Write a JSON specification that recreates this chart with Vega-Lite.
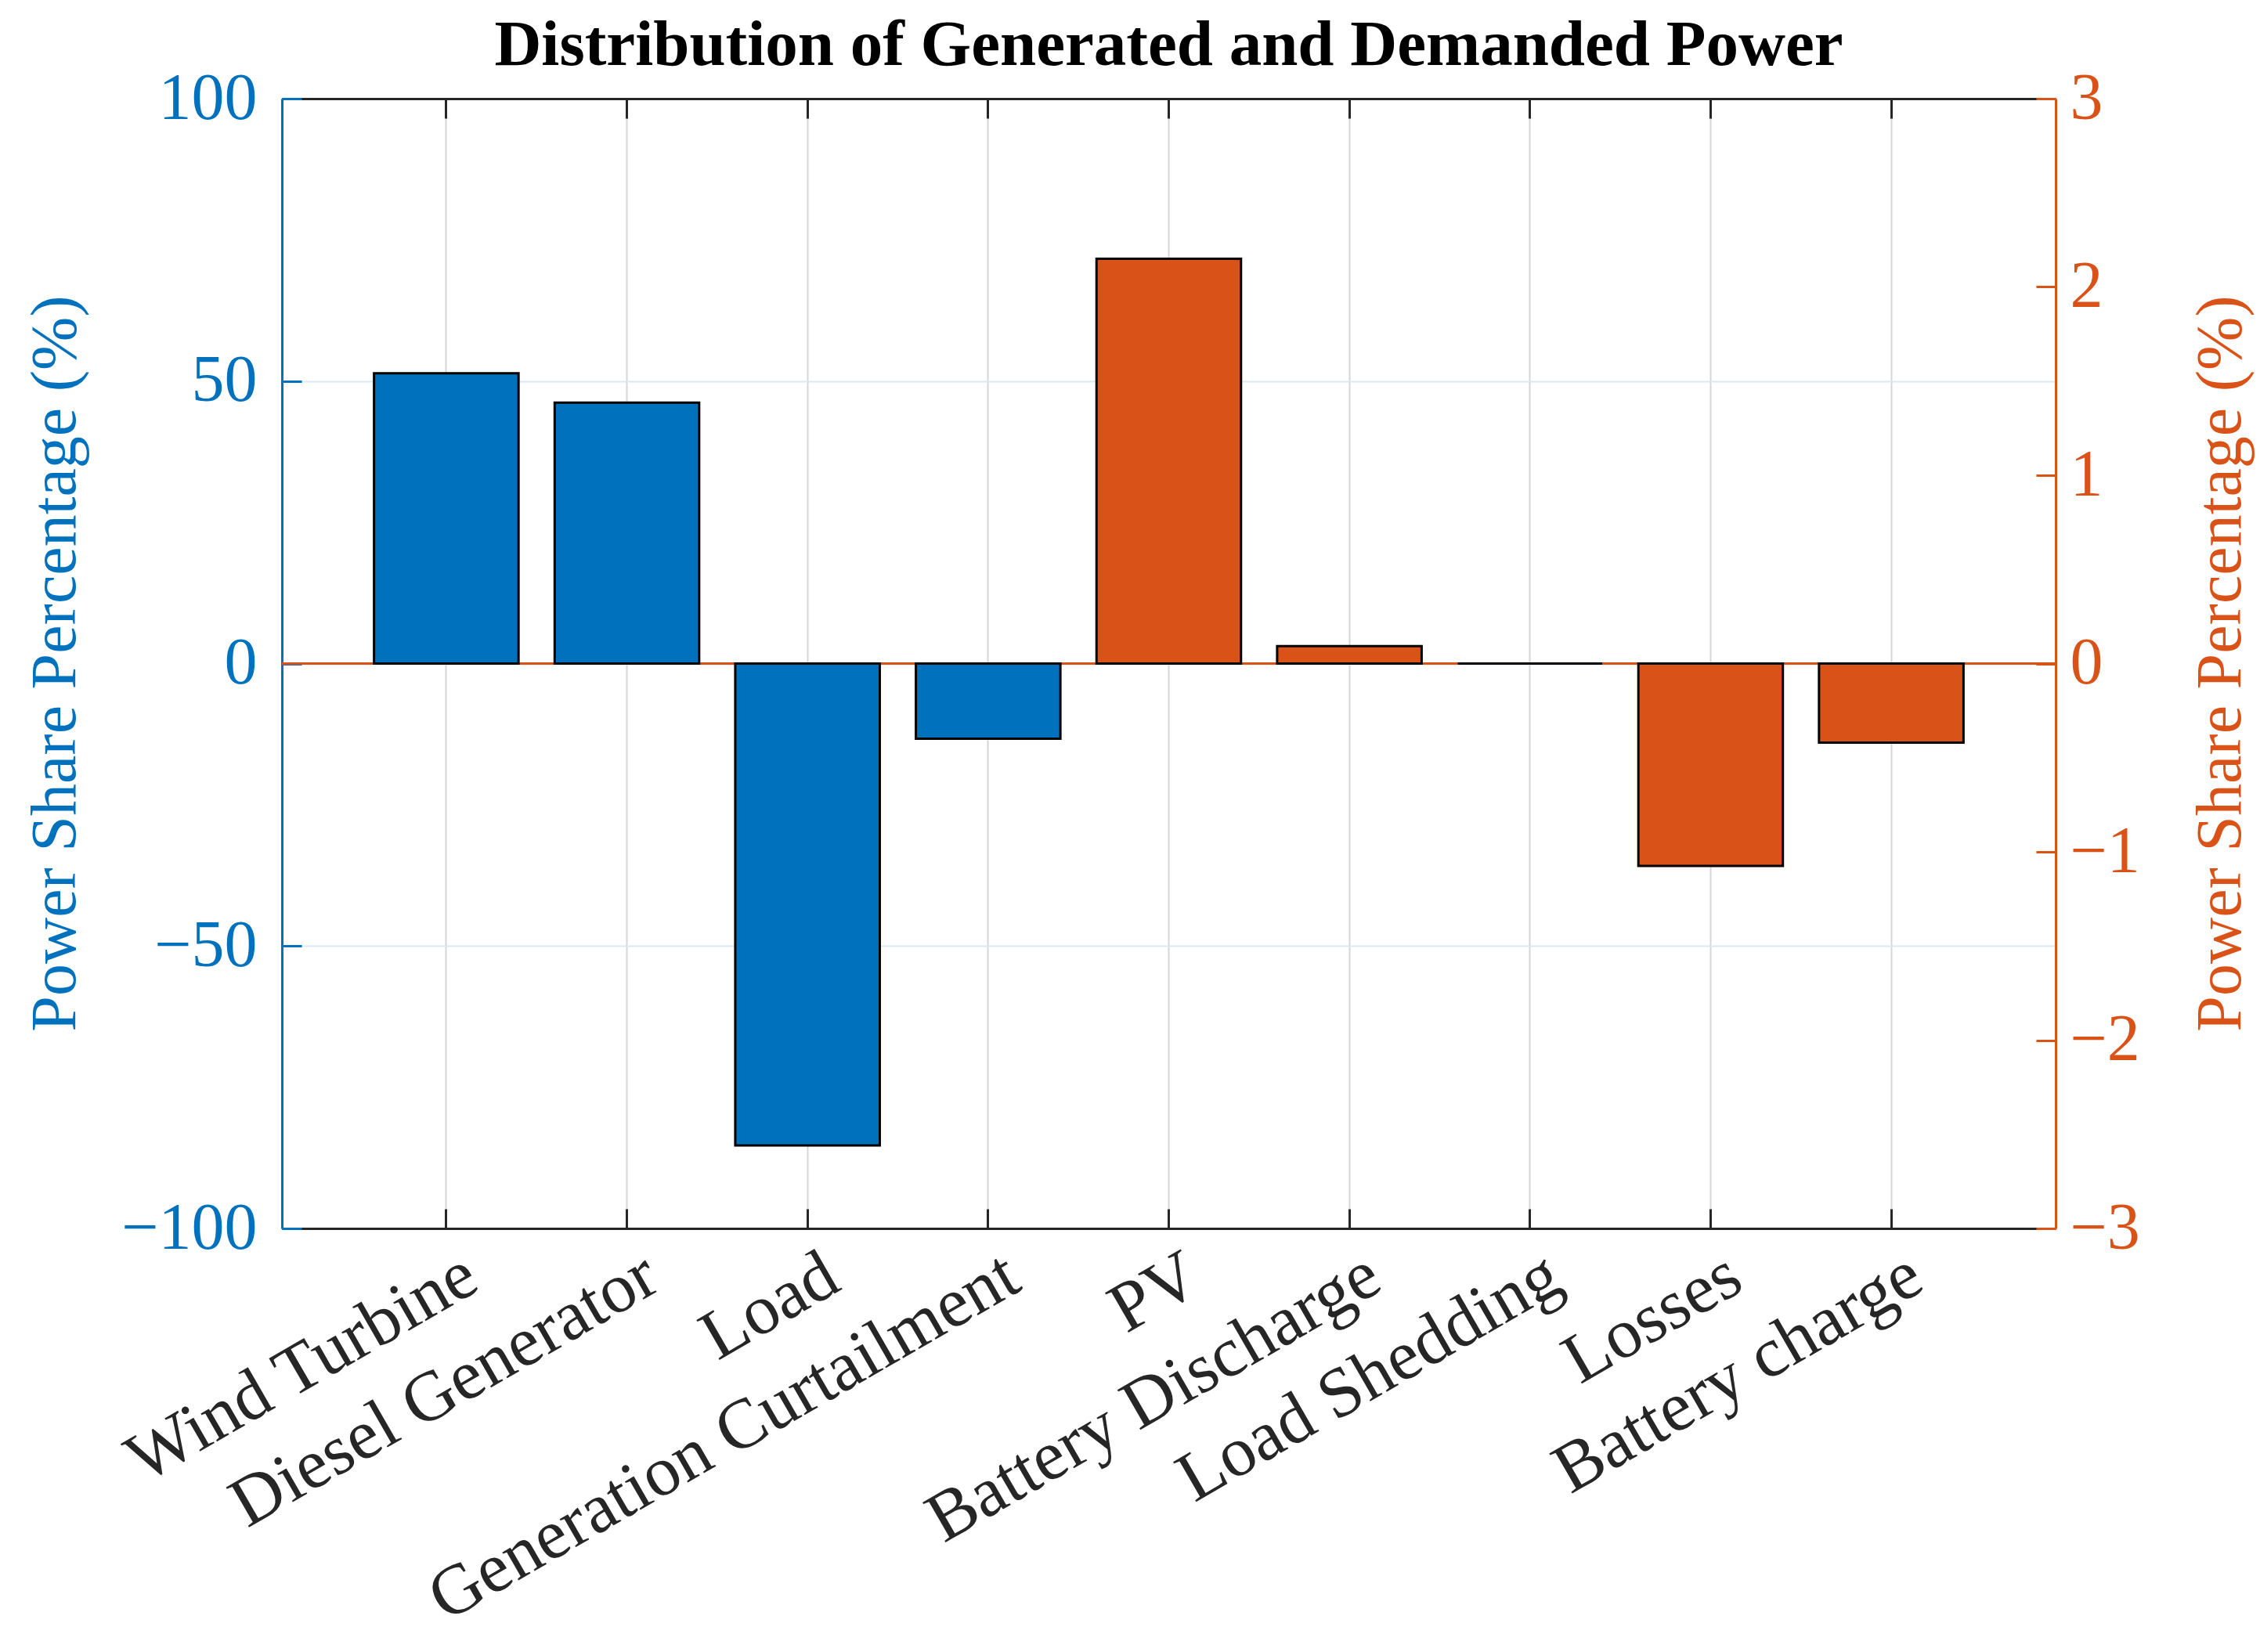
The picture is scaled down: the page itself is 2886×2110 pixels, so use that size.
{
  "$schema": "https://vega.github.io/schema/vega-lite/v6.json",
  "description": "Distribution of generated and demanded power, two y axes",
  "autosize": {"type": "none"},
  "width": 2265,
  "height": 1443,
  "padding": {"left": 360, "top": 126, "right": 261, "bottom": 541},
  "background": "white",
  "title": {
    "text": "Distribution of Generated and Demanded Power",
    "font": "Liberation Serif",
    "fontSize": 83,
    "fontWeight": "bold",
    "color": "#000000",
    "anchor": "middle",
    "offset": -16
  },
  "data": {
    "values": [
      {"item": "Wind Turbine", "share": 51.4, "side": "left"},
      {"item": "Diesel Generator", "share": 46.2, "side": "left"},
      {"item": "Load", "share": -85.3, "side": "left"},
      {"item": "Generation Curtailment", "share": -13.3, "side": "left"},
      {"item": "PV", "share": 2.15, "side": "right"},
      {"item": "Battery Discharge", "share": 0.093, "side": "right"},
      {"item": "Load Shedding", "share": 0, "side": "right"},
      {"item": "Losses", "share": -1.075, "side": "right"},
      {"item": "Battery charge", "share": -0.42, "side": "right"}
    ]
  },
  "layer": [
    {
      "layer": [
        {
          "mark": {"type": "rule", "color": "#D95319", "strokeWidth": 3},
          "encoding": {
            "y": {"datum": 0, "type": "quantitative", "scale": {"domain": [-100, 100], "nice": false}}
          }
        },
        {
          "transform": [{"filter": "datum.side === 'left'"}],
          "mark": {"type": "bar", "fill": "#0072BD", "stroke": "#000000", "strokeWidth": 3},
          "encoding": {
            "x": {
              "field": "item",
              "type": "nominal",
              "sort": null,
              "scale": {
                "domain": ["Wind Turbine", "Diesel Generator", "Load", "Generation Curtailment", "PV", "Battery Discharge", "Load Shedding", "Losses", "Battery charge"],
                "paddingInner": 0.2,
                "paddingOuter": 0.51
              },
              "axis": {
                "orient": "bottom",
                "title": null,
                "labelAngle": -30,
                "labelAlign": "right",
                "labelBaseline": "middle",
                "labelPadding": 78,
                "labelOffset": 32,
                "labelFont": "Liberation Serif",
                "labelFontSize": 90,
                "labelColor": "#262626",
                "labelLimit": 2000,
                "domainColor": "#262626",
                "domainWidth": 3,
                "tickColor": "#262626",
                "tickWidth": 3,
                "tickSize": -25,
                "grid": true,
                "gridColor": "#d6d6d6",
                "gridWidth": 2
              }
            },
            "y": {
              "field": "share",
              "type": "quantitative",
              "scale": {"domain": [-100, 100], "nice": false},
              "axis": {
                "orient": "left",
                "values": [-100, -50, 0, 50, 100],
                "title": "Power Share Percentage (%)",
                "titleFont": "Liberation Serif",
                "titleFontSize": 82,
                "titleFontWeight": "normal",
                "titleColor": "#0072BD",
                "titleX": -290,
                "titleY": 721,
                "titleAngle": -90,
                "titleAlign": "center",
                "titleBaseline": "middle",
                "labelFont": "Liberation Serif",
                "labelFontSize": 84,
                "labelColor": "#0072BD",
                "labelPadding": 57,
                "domainColor": "#0072BD",
                "domainWidth": 3,
                "tickColor": "#0072BD",
                "tickWidth": 3,
                "tickSize": -25,
                "grid": true,
                "gridColor": "#d9e9f5",
                "gridWidth": 2
              }
            }
          }
        }
      ]
    },
    {
      "transform": [{"filter": "datum.side === 'right'"}],
      "mark": {"type": "bar", "fill": "#D95319", "stroke": "#000000", "strokeWidth": 3},
      "encoding": {
        "x": {
          "field": "item",
          "type": "nominal",
          "sort": null,
          "scale": {
            "domain": ["Wind Turbine", "Diesel Generator", "Load", "Generation Curtailment", "PV", "Battery Discharge", "Load Shedding", "Losses", "Battery charge"],
            "paddingInner": 0.2,
            "paddingOuter": 0.51
          },
          "axis": {
            "orient": "top",
            "title": null,
            "labels": false,
            "domainColor": "#262626",
            "domainWidth": 3,
            "tickColor": "#262626",
            "tickWidth": 3,
            "tickSize": -25,
            "grid": false
          }
        },
        "y": {
          "field": "share",
          "type": "quantitative",
          "scale": {"domain": [-3, 3], "nice": false},
          "axis": {
            "orient": "right",
            "values": [-3, -2, -1, 0, 1, 2, 3],
            "title": "Power Share Percentage (%)",
            "titleFont": "Liberation Serif",
            "titleFontSize": 82,
            "titleFontWeight": "normal",
            "titleColor": "#D95319",
            "titleX": 210,
            "titleY": 721,
            "titleAngle": -90,
            "titleAlign": "center",
            "titleBaseline": "middle",
            "labelFont": "Liberation Serif",
            "labelFontSize": 84,
            "labelColor": "#D95319",
            "labelPadding": 43,
            "domainColor": "#D95319",
            "domainWidth": 3,
            "tickColor": "#D95319",
            "tickWidth": 3,
            "tickSize": -25,
            "grid": false
          }
        }
      }
    }
  ],
  "resolve": {
    "scale": {"y": "independent"},
    "axis": {"x": "independent", "y": "independent"}
  },
  "config": {
    "view": {"stroke": null}
  }
}
